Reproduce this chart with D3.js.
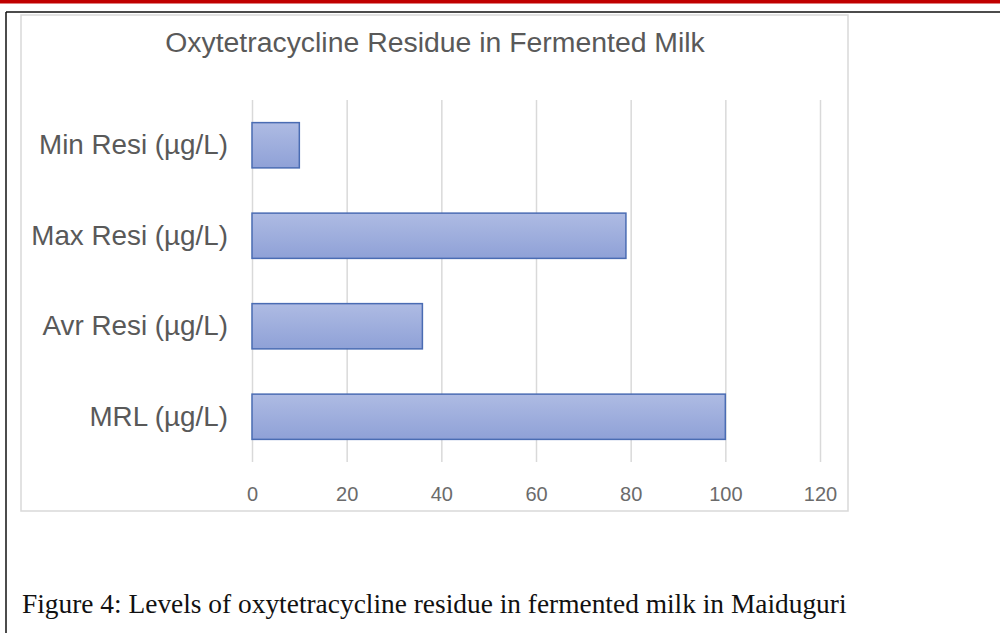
<!DOCTYPE html>
<html>
<head>
<meta charset="utf-8">
<script src="https://cdn.jsdelivr.net/npm/d3@7"></script>
<style>
  html, body { margin: 0; padding: 0; background: #fff; }
  svg { display: block; }
</style>
</head>
<body>
<svg id="fig" width="1000" height="633"></svg>
<script>
// Residue levels (µg/L)
const categories = ["Min Resi (µg/L)", "Max Resi (µg/L)", "Avr Resi (µg/L)", "MRL (µg/L)"];
const values = [10, 79, 36, 100];
const xTicks = [0, 20, 40, 60, 80, 100, 120];
const chartTitle = "Oxytetracycline Residue in Fermented Milk";
const caption = "Figure 4: Levels of oxytetracycline residue in fermented milk in Maiduguri";

const svg = d3.select("#fig");

// page frame: red rule and black border lines
svg.append("rect").attr("x", 0).attr("y", 0).attr("width", 1000).attr("height", 3.5).attr("fill", "#c00000");
svg.append("line").attr("x1", 6).attr("x2", 1000).attr("y1", 12).attr("y2", 12)
  .attr("stroke", "#111").attr("stroke-width", 1.5);
svg.append("line").attr("x1", 6).attr("x2", 6).attr("y1", 12).attr("y2", 633)
  .attr("stroke", "#111").attr("stroke-width", 1.5);

// chart box
svg.append("rect").attr("x", 21).attr("y", 15).attr("width", 827).attr("height", 496)
  .attr("fill", "#fff").attr("stroke", "#d9d9d9").attr("stroke-width", 1.5);

svg.append("text").attr("x", 435).attr("y", 52).attr("text-anchor", "middle")
  .attr("font-family", "Liberation Sans, Arial, sans-serif").attr("font-size", 28.4)
  .attr("fill", "#595959").text(chartTitle);

const plot = { left: 252, right: 820, top: 100, bottom: 462 };

const x = d3.scaleLinear().domain([0, 120]).range([plot.left, plot.right]);
const y = d3.scaleBand().domain(categories).range([plot.top, plot.bottom]).paddingInner(0.5).paddingOuter(0.25);

// gradient fill for bars
const defs = svg.append("defs");
const grad = defs.append("linearGradient").attr("id", "barFill").attr("x1", 0).attr("y1", 0).attr("x2", 0).attr("y2", 1);
grad.append("stop").attr("offset", "0%").attr("stop-color", "#aebbe3");
grad.append("stop").attr("offset", "100%").attr("stop-color", "#8fa1d7");

// vertical gridlines
const xAxis = d3.axisBottom(x).tickValues(xTicks).tickSize(-(plot.bottom - plot.top)).tickPadding(25);
const gx = svg.append("g").attr("transform", `translate(0,${plot.bottom})`).call(xAxis);
gx.select(".domain").remove();
gx.selectAll(".tick line").attr("stroke", "#d9d9d9").attr("stroke-width", 1.5);
gx.selectAll(".tick text").attr("font-family", "Liberation Sans, Arial, sans-serif")
  .attr("font-size", 20).attr("fill", "#6b6b6b");

// bars
svg.append("g").selectAll("rect").data(values).join("rect")
  .attr("x", x(0))
  .attr("y", (d, i) => y(categories[i]))
  .attr("width", d => x(d) - x(0))
  .attr("height", y.bandwidth())
  .attr("fill", "url(#barFill)")
  .attr("stroke", "#4a6cb3").attr("stroke-width", 1.5);

// category labels
const yAxis = d3.axisLeft(y).tickSize(0).tickPadding(24);
const gy = svg.append("g").attr("transform", `translate(${plot.left},0)`).call(yAxis);
gy.select(".domain").remove();
gy.selectAll(".tick text").attr("font-family", "Liberation Sans, Arial, sans-serif")
  .attr("font-size", 27.8).attr("fill", "#595959");

// figure caption
svg.append("text").attr("x", 22).attr("y", 613)
  .attr("font-family", "Liberation Serif, Times New Roman, serif").attr("font-size", 27.4)
  .attr("fill", "#111").text(caption);
</script>
</body>
</html>
